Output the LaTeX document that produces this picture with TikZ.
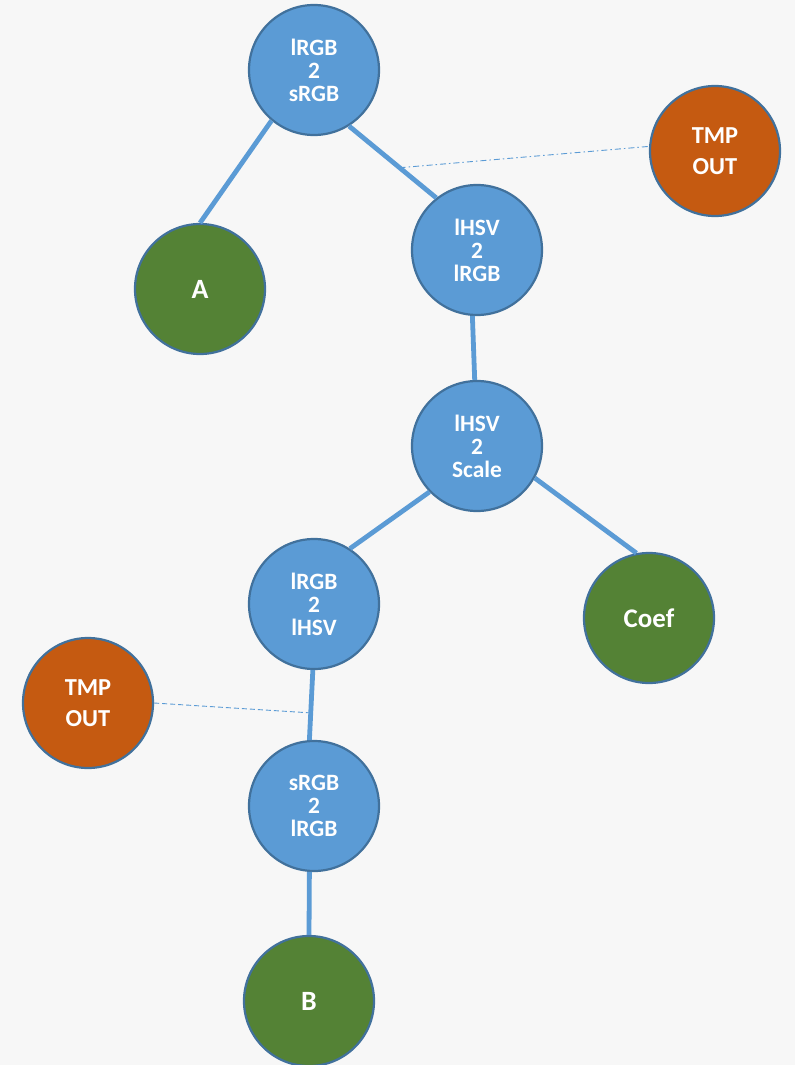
\documentclass[tikz,border=0pt]{standalone}
\usepackage{fontspec}
\setmainfont{Carlito}
\definecolor{bg}{HTML}{F7F7F7}
\definecolor{opblue}{HTML}{5B9BD5}
\definecolor{rimblue}{HTML}{41719C}
\definecolor{leafgreen}{HTML}{548235}
\definecolor{tmporange}{HTML}{C55A11}
\tikzset{
  ball/.style={circle, minimum size=130bp, inner sep=0pt, draw=rimblue, line width=2.2bp,
               text=white, align=center, font=\bfseries},
  op/.style={ball, fill=opblue, font=\bfseries\fontsize{23.5}{23}\selectfont},
  leaf/.style={ball, fill=leafgreen},
  tmp/.style={ball, fill=tmporange, font=\bfseries\fontsize{24.5}{31}\selectfont},
  link/.style={draw=opblue, line width=4.8bp},
  tap/.style={draw=opblue, line width=0.9bp},
}
\begin{document}
\begin{tikzpicture}[x=1bp, y=-1bp]
  \fill[bg] (0,0) rectangle (795,1065);
  \useasboundingbox (0,0) rectangle (795,1065);

  \node[op] (l2s) at (314,70) {lRGB\\2\\sRGB};
  \node[tmp] (tmp1) at (715,151) {TMP\\OUT};
  \node[leaf, font=\bfseries\fontsize{28}{30}\selectfont] (A) at (200,289) {A};
  \node[op] (hv2l) at (477,250) {lHSV\\2\\lRGB};
  \node[op] (hv2s) at (477,446) {lHSV\\2\\Scale};
  \node[op] (l2hv) at (314,604) {lRGB\\2\\lHSV};
  \node[leaf, font=\bfseries\fontsize{27}{29}\selectfont] (coef) at (649,618) {Coef};
  \node[tmp] (tmp2) at (88,703) {TMP\\OUT};
  \node[op] (s2l) at (314,806) {sRGB\\2\\lRGB};
  \node[leaf, font=\bfseries\fontsize{28}{30}\selectfont] (B) at (309,1001) {B};

  \draw[link] (A.north) -- (l2s.230);
  \draw[link] (l2s.302) -- coordinate[pos=0.58] (tapTop) (hv2l.128);
  \draw[link] (hv2l.266) -- (hv2s.92);
  \draw[link] (hv2s.224) -- (l2hv.57);
  \draw[link] (hv2s.331) -- (coef.101);
  \draw[link] (l2hv.269) -- coordinate[pos=0.61] (tapLow) (s2l.94);
  \draw[link] (s2l.266) -- (B.north);

  \draw[tap, dash pattern=on 6bp off 3bp on 1.5bp off 3bp] (tapTop) -- (tmp1.176);
  \draw[tap, dash pattern=on 5bp off 3bp] (tmp2.east) -- ([xshift=-2bp]tapLow);
\end{tikzpicture}
\end{document}
